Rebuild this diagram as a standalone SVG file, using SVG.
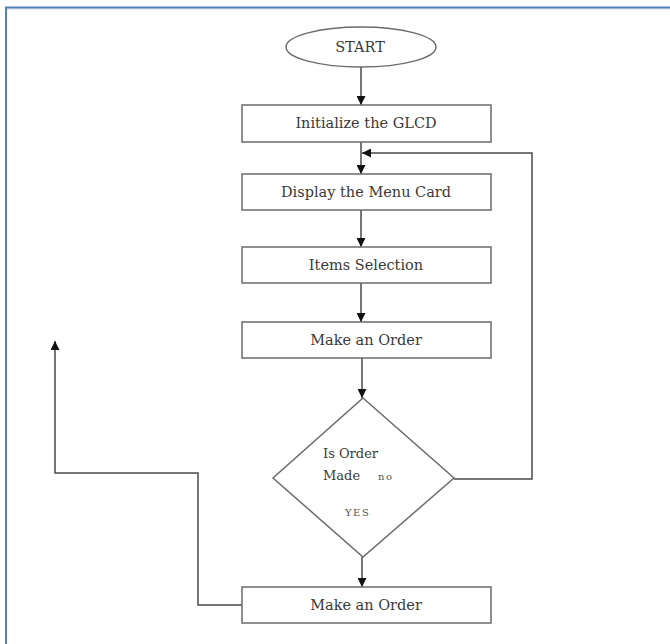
<svg xmlns="http://www.w3.org/2000/svg" width="670" height="644" viewBox="0 0 670 644">
  <style>
    .box { fill: #ffffff; stroke: #6b6b6b; stroke-width: 1.5; }
    .lbl { font-family: "DejaVu Serif", "Liberation Serif", serif; font-size: 14.5px; fill: #3a3a3a; text-anchor: middle; }
    .dlbl { font-family: "DejaVu Serif", "Liberation Serif", serif; font-size: 13px; fill: #3a3a3a; }
    .small { font-family: "DejaVu Serif", "Liberation Serif", serif; font-size: 10px; fill: #555; letter-spacing: 1.5px; }
    .line { fill: none; stroke: #4a4a4a; stroke-width: 1.5; }
  </style>
  <defs>
    <marker id="arrow" viewBox="0 0 10 10" refX="10" refY="5" markerWidth="9" markerHeight="9" markerUnits="userSpaceOnUse" orient="auto">
      <path d="M0,0 L10,5 L0,10 Z" fill="#111"/>
    </marker>
  </defs>
  <rect width="670" height="644" fill="#ffffff"/>
  <!-- frame -->
  <g id="frame">
    <line x1="6" y1="9" x2="670" y2="9" stroke="#d0d4da" stroke-width="1"/>
    <line x1="5" y1="7.5" x2="670" y2="7.5" stroke="#4f81bd" stroke-width="2"/>
    <line x1="6" y1="7" x2="6" y2="644" stroke="#4f81bd" stroke-width="2"/>
  </g>
  <!-- connectors -->
  <g id="connectors">
    <line class="line" x1="361" y1="67" x2="361" y2="105" marker-end="url(#arrow)"/>
    <line class="line" x1="361" y1="142" x2="361" y2="174" marker-end="url(#arrow)"/>
    <line class="line" x1="361" y1="210" x2="361" y2="247" marker-end="url(#arrow)"/>
    <line class="line" x1="361" y1="283" x2="361" y2="322" marker-end="url(#arrow)"/>
    <line class="line" x1="362" y1="358" x2="362" y2="398" marker-end="url(#arrow)"/>
    <line class="line" x1="362" y1="557" x2="362" y2="587" marker-end="url(#arrow)"/>
    <polyline class="line" points="454,479 532,479 532,153 362,153" marker-end="url(#arrow)"/>
    <polyline class="line" points="242,605 198,605 198,473 55,473 55,341" marker-end="url(#arrow)"/>
  </g>
  <g id="start">
    <ellipse class="box" cx="361" cy="47" rx="75" ry="20"/>
    <text class="lbl" x="360" y="52">START</text>
  </g>
  <g id="init">
    <rect class="box" x="242" y="105" width="249" height="37"/>
    <text class="lbl" x="366" y="128">Initialize the GLCD</text>
  </g>
  <g id="menu">
    <rect class="box" x="242" y="174" width="249" height="36"/>
    <text class="lbl" x="366" y="197">Display the Menu Card</text>
  </g>
  <g id="items">
    <rect class="box" x="242" y="247" width="249" height="36"/>
    <text class="lbl" x="366" y="270">Items Selection</text>
  </g>
  <g id="order1">
    <rect class="box" x="242" y="322" width="249" height="36"/>
    <text class="lbl" x="366" y="345">Make an Order</text>
  </g>
  <g id="decision">
    <polygon class="box" points="363,398 454,478 363,557 273,478"/>
    <text class="dlbl" x="323" y="458">Is Order</text>
    <text class="dlbl" x="323" y="480">Made</text>
    <text class="small" x="378" y="480">no</text>
    <text class="small" x="345" y="516">YES</text>
  </g>
  <g id="order2">
    <rect class="box" x="242" y="587" width="249" height="36"/>
    <text class="lbl" x="366" y="610">Make an Order</text>
  </g>
</svg>
